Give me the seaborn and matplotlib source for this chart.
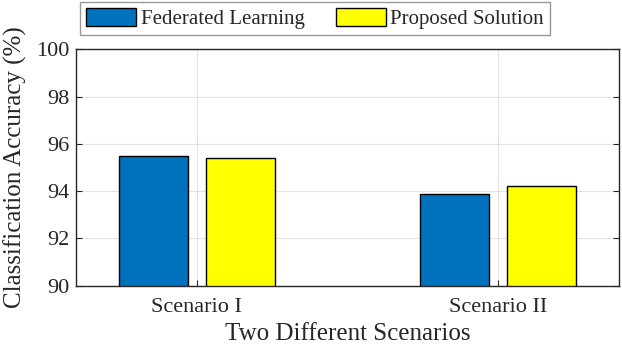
"""
Grouped bar chart: classification accuracy for two scenarios.
"""

import pandas as pd
import matplotlib.pyplot as plt
import seaborn as sns

scenarios = ["Scenario I", "Scenario II"]
methods = ["Federated Learning", "Proposed Solution"]
federated = [95.5, 93.9]
proposed = [95.4, 94.2]
y_ticks = [90, 92, 94, 96, 98, 100]

colors = ["#0072BD", "#FFFF00"]
dark = "#262626"

sns.set_theme(style="whitegrid")
plt.rcParams["font.family"] = ["Liberation Serif", "DejaVu Serif"]

df = pd.DataFrame(
    {
        "Scenario": scenarios * 2,
        "Method": [methods[0]] * len(scenarios) + [methods[1]] * len(scenarios),
        "Accuracy": federated + proposed,
    }
)

fig = plt.figure(figsize=(6.22, 3.48), dpi=100)
ax = fig.add_axes([76 / 622, 62.3 / 348, 543 / 622, 236.4 / 348])

sns.barplot(
    data=df,
    x="Scenario",
    y="Accuracy",
    hue="Method",
    palette=colors,
    saturation=1,
    width=0.578,
    gap=0.21,
    edgecolor="black",
    linewidth=1,
    errorbar=None,
    ax=ax,
)

ax.set_ylim(90, 100)
ax.set_xlim(-0.4, 1.4)
ax.set_yticks(y_ticks)
ax.set_axisbelow(True)
ax.grid(True, color="#e3e3e3", linewidth=0.8)

for side in ["left", "right", "top", "bottom"]:
    ax.spines[side].set_visible(True)
    ax.spines[side].set_color(dark)
    ax.spines[side].set_linewidth(1)

ax.tick_params(
    axis="both",
    direction="in",
    length=4,
    width=0.8,
    color=dark,
    labelcolor=dark,
    labelsize=16,
    left=True,
    right=True,
    bottom=True,
    pad=5,
)
ax.tick_params(axis="x", pad=9)

ax.set_xlabel("Two Different Scenarios", fontsize=18, color=dark, labelpad=4)
ax.set_ylabel("Classification Accuracy (%)", fontsize=18, color=dark, labelpad=6)

handles, labels = ax.get_legend_handles_labels()
ax.get_legend().remove()
leg = fig.legend(
    handles,
    labels,
    loc="center",
    bbox_to_anchor=(315 / 622, 1 - 18.5 / 348),
    ncol=2,
    fontsize=15,
    frameon=True,
    fancybox=False,
    edgecolor="#808080",
    handlelength=2.4,
    handleheight=1.0,
    handletextpad=0.2,
    columnspacing=1.5,
    borderpad=0.3,
    borderaxespad=0,
)
leg.get_frame().set_linewidth(1)

fig.savefig("out.png", dpi=100)
plt.close(fig)
